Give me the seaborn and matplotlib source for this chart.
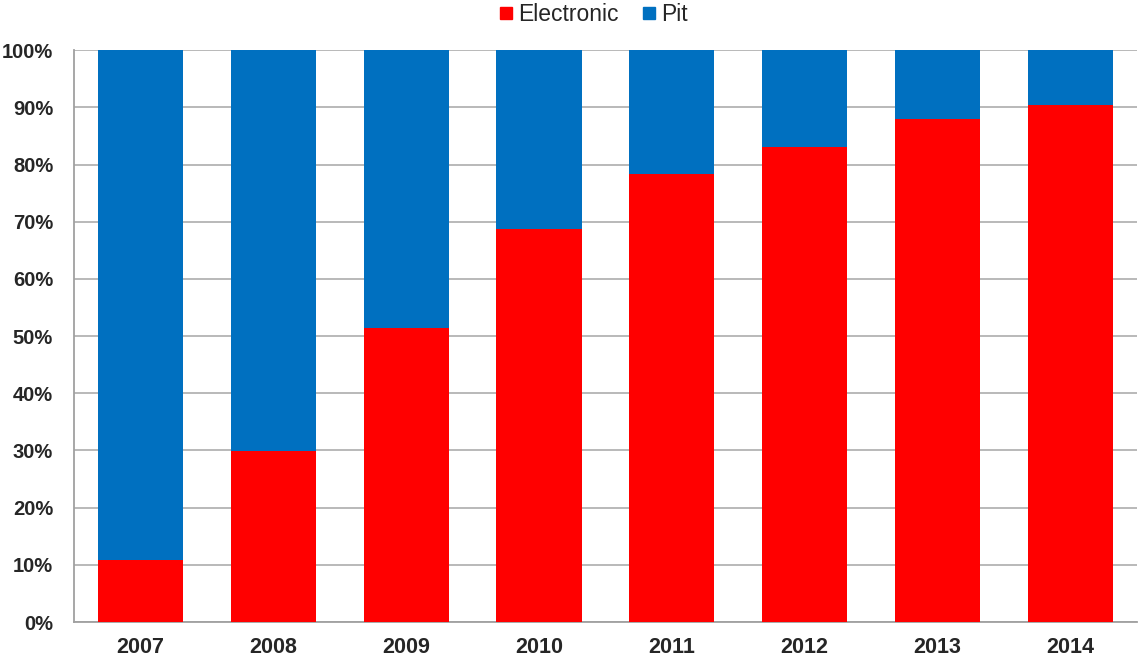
import pandas as pd
import matplotlib
matplotlib.use("Agg")
import matplotlib.pyplot as plt
import seaborn as sns
from matplotlib.lines import Line2D
from matplotlib.ticker import PercentFormatter

years = ["2007", "2008", "2009", "2010", "2011", "2012", "2013", "2014"]
electronic = [10.9, 29.9, 51.5, 68.8, 78.4, 83.0, 88.0, 90.4]
pit = [100 - e for e in electronic]

red = "#FF0000"
blue = "#0070C0"

df = pd.DataFrame({"year": years, "Electronic": electronic, "Pit": pit})
df["total"] = df["Electronic"] + df["Pit"]

sns.set_style("white")
plt.rcParams["font.family"] = ["Liberation Sans", "DejaVu Sans"]

fig = plt.figure(figsize=(11.38, 6.61), dpi=100)
ax = fig.add_axes([0.065, 0.059, 0.934, 0.865])

# stacked: full bar in blue (pit on top), electronic over it in red
sns.barplot(data=df, x="year", y="total", color=blue, width=0.64,
            saturation=1, linewidth=0, ax=ax, zorder=2)
sns.barplot(data=df, x="year", y="Electronic", color=red, width=0.64,
            saturation=1, linewidth=0, ax=ax, zorder=3)

ax.set_ylim(0, 100)
ax.set_xlim(-0.5, len(years) - 0.5)
ax.set_yticks(range(0, 101, 10))
ax.yaxis.set_major_formatter(PercentFormatter(decimals=0))
ax.grid(axis="y", color="#b3b3b3", linewidth=1.3, zorder=0)
ax.set_axisbelow(True)
ax.set_xlabel("")
ax.set_ylabel("")

for s in ["top", "right"]:
    ax.spines[s].set_visible(False)
for s in ["left", "bottom"]:
    ax.spines[s].set_color("#a0a0a0")
    ax.spines[s].set_linewidth(1.3)

ax.tick_params(axis="y", length=0, pad=15, labelsize=14.5)
ax.tick_params(axis="x", length=0, pad=11, labelsize=15.5)
for lab in ax.get_xticklabels() + ax.get_yticklabels():
    lab.set_fontweight("bold")

handles = [
    Line2D([], [], marker="s", linestyle="", color=red, markersize=8),
    Line2D([], [], marker="s", linestyle="", color=blue, markersize=8),
]
fig.legend(handles, ["Electronic", "Pit"], loc="center", bbox_to_anchor=(0.52, 0.978),
           ncol=2, frameon=False, fontsize=16.5, handletextpad=0.05,
           columnspacing=0.9, handlelength=0.9)

fig.savefig("out.png", dpi=100)
